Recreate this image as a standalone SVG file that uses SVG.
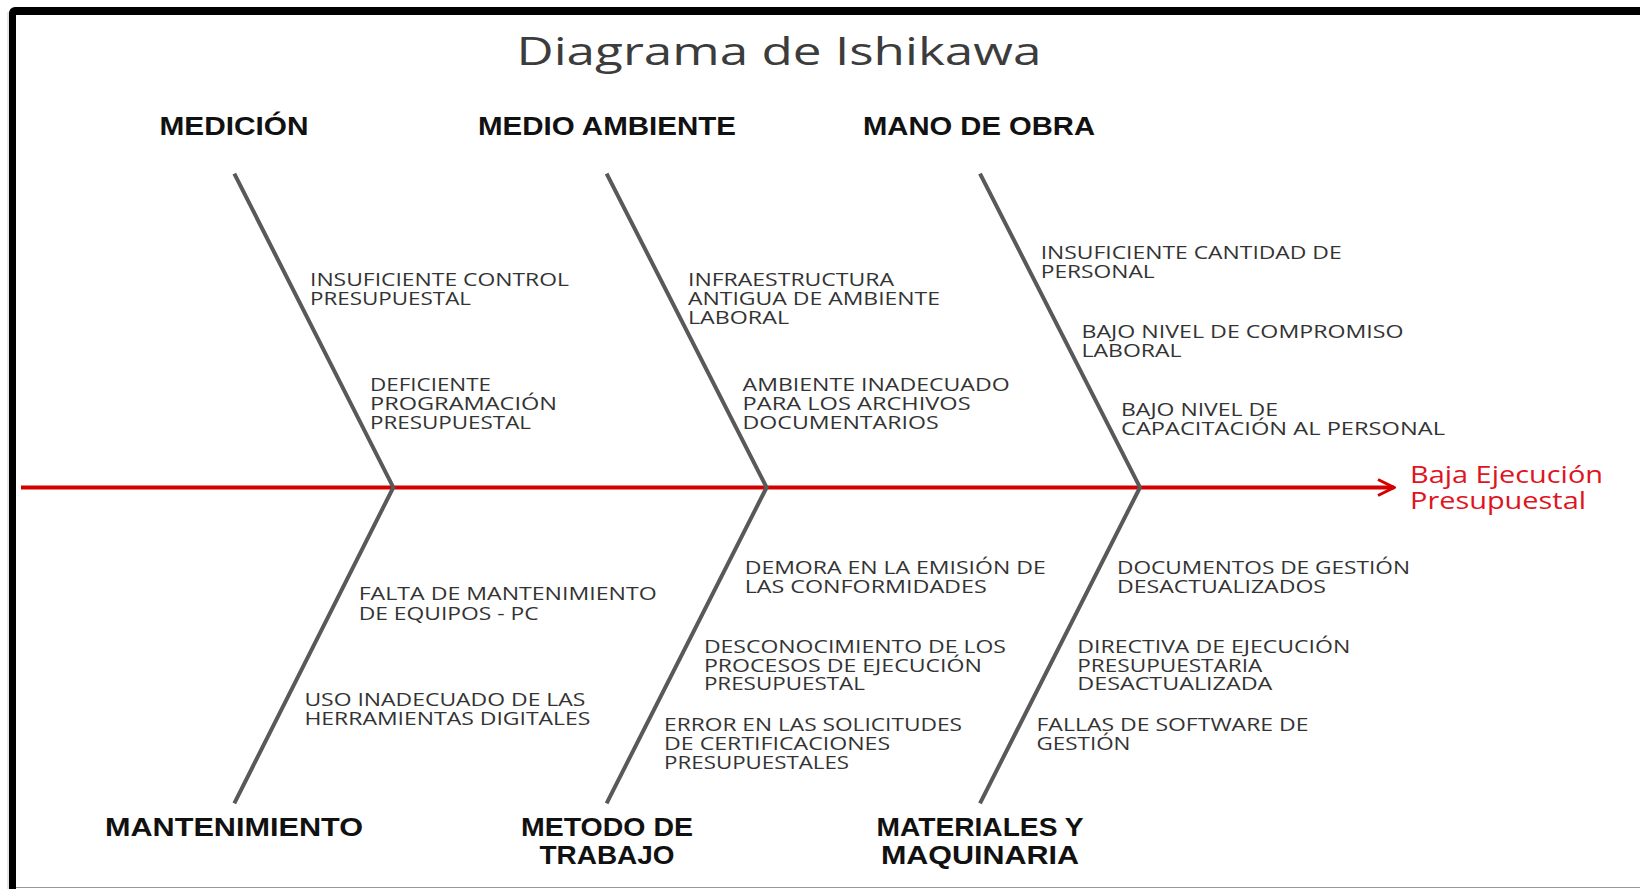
<svg xmlns="http://www.w3.org/2000/svg" width="1640" height="889" viewBox="0 0 1640 889">
<style>
.title{font-family:"Open Sans","Liberation Sans",sans-serif;font-size:38px;fill:#3c3c3c}
.cat{font-family:"Liberation Sans",Arial,sans-serif;font-weight:bold;font-size:26px;fill:#111}
.cause{font-family:"Open Sans","Liberation Sans",sans-serif;font-size:18px;fill:#333}
.effect{font-family:"Open Sans","Liberation Sans",sans-serif;font-size:24px;fill:#e0141e}
.bone{fill:none;stroke:#595959;stroke-width:4;stroke-linejoin:miter}
.spine{stroke:#d40000;stroke-width:4;fill:none}
</style>
<defs>
<marker id="arr" viewBox="0 0 20 20" refX="18" refY="10" markerWidth="20" markerHeight="20" markerUnits="userSpaceOnUse" orient="auto">
<path d="M2,2 L18,10 L2,18" fill="none" stroke="#d40000" stroke-width="3"/>
</marker>
</defs>
<rect width="1640" height="889" fill="#fff"/>
<g id="frame">
<line x1="8" y1="12" x2="8" y2="889" stroke="#ccc" stroke-width="1"/>
<path d="M9,889 V13 A6,6 0 0 1 15,7 H1640 V15 H16 V889 Z" fill="#000"/>
<line x1="16" y1="887.5" x2="1640" y2="887.5" stroke="#999" stroke-width="1.2"/>
</g>
<g id="title">
<text class="title" x="779" y="65" text-anchor="middle" textLength="525" lengthAdjust="spacingAndGlyphs">Diagrama de Ishikawa</text>
</g>
<g id="connectors">
<line class="spine" x1="21" y1="487.5" x2="1394" y2="487.5" marker-end="url(#arr)"/>
<polyline class="bone" points="234.3,173.6 393.3,487.4 234.3,803.3"/>
<polyline class="bone" points="606.6,173.6 766.6,487.4 606.6,803.3"/>
<polyline class="bone" points="980,173.6 1140,487.4 980,803.3"/>
</g>
<g id="effect">
<text class="effect" x="1410" y="483" textLength="193" lengthAdjust="spacingAndGlyphs">Baja Ejecución</text>
<text class="effect" x="1410" y="509.4" textLength="176" lengthAdjust="spacingAndGlyphs">Presupuestal</text>
</g>
<g id="cat-medicion">
<text class="cat" x="234" y="135" text-anchor="middle" textLength="149" lengthAdjust="spacingAndGlyphs">MEDICIÓN</text>
</g>
<g id="cat-medio-ambiente">
<text class="cat" x="607" y="135" text-anchor="middle" textLength="258" lengthAdjust="spacingAndGlyphs">MEDIO AMBIENTE</text>
</g>
<g id="cat-mano-de-obra">
<text class="cat" x="979" y="135" text-anchor="middle" textLength="232" lengthAdjust="spacingAndGlyphs">MANO DE OBRA</text>
</g>
<g id="cat-mantenimiento">
<text class="cat" x="234" y="835.7" text-anchor="middle" textLength="258" lengthAdjust="spacingAndGlyphs">MANTENIMIENTO</text>
</g>
<g id="cat-metodo">
<text class="cat" x="607" y="835.7" text-anchor="middle" textLength="172" lengthAdjust="spacingAndGlyphs">METODO DE</text>
<text class="cat" x="607" y="864" text-anchor="middle" textLength="135" lengthAdjust="spacingAndGlyphs">TRABAJO</text>
</g>
<g id="cat-materiales">
<text class="cat" x="980" y="835.7" text-anchor="middle" textLength="207" lengthAdjust="spacingAndGlyphs">MATERIALES Y</text>
<text class="cat" x="980" y="864" text-anchor="middle" textLength="198" lengthAdjust="spacingAndGlyphs">MAQUINARIA</text>
</g>
<g id="cause-1">
<text class="cause" x="310" y="285.5" textLength="259" lengthAdjust="spacingAndGlyphs">INSUFICIENTE CONTROL</text>
<text class="cause" x="310" y="305" textLength="161" lengthAdjust="spacingAndGlyphs">PRESUPUESTAL</text>
</g>
<g id="cause-2">
<text class="cause" x="370" y="391" textLength="121" lengthAdjust="spacingAndGlyphs">DEFICIENTE</text>
<text class="cause" x="370" y="410" textLength="187" lengthAdjust="spacingAndGlyphs">PROGRAMACIÓN</text>
<text class="cause" x="370" y="429" textLength="161" lengthAdjust="spacingAndGlyphs">PRESUPUESTAL</text>
</g>
<g id="cause-3">
<text class="cause" x="688" y="285.5" textLength="206" lengthAdjust="spacingAndGlyphs">INFRAESTRUCTURA</text>
<text class="cause" x="688" y="305" textLength="252" lengthAdjust="spacingAndGlyphs">ANTIGUA DE AMBIENTE</text>
<text class="cause" x="688" y="324" textLength="101" lengthAdjust="spacingAndGlyphs">LABORAL</text>
</g>
<g id="cause-4">
<text class="cause" x="742.6" y="391" textLength="267" lengthAdjust="spacingAndGlyphs">AMBIENTE INADECUADO</text>
<text class="cause" x="742.6" y="410" textLength="228" lengthAdjust="spacingAndGlyphs">PARA LOS ARCHIVOS</text>
<text class="cause" x="742.6" y="429" textLength="196" lengthAdjust="spacingAndGlyphs">DOCUMENTARIOS</text>
</g>
<g id="cause-5">
<text class="cause" x="1040.7" y="259.4" textLength="301" lengthAdjust="spacingAndGlyphs">INSUFICIENTE CANTIDAD DE</text>
<text class="cause" x="1040.7" y="278.2" textLength="114" lengthAdjust="spacingAndGlyphs">PERSONAL</text>
</g>
<g id="cause-6">
<text class="cause" x="1081.5" y="337.8" textLength="322" lengthAdjust="spacingAndGlyphs">BAJO NIVEL DE COMPROMISO</text>
<text class="cause" x="1081.5" y="356.6" textLength="100" lengthAdjust="spacingAndGlyphs">LABORAL</text>
</g>
<g id="cause-7">
<text class="cause" x="1121" y="416.3" textLength="157" lengthAdjust="spacingAndGlyphs">BAJO NIVEL DE</text>
<text class="cause" x="1121" y="435" textLength="324" lengthAdjust="spacingAndGlyphs">CAPACITACIÓN AL PERSONAL</text>
</g>
<g id="cause-8">
<text class="cause" x="358.7" y="600.3" textLength="298" lengthAdjust="spacingAndGlyphs">FALTA DE MANTENIMIENTO</text>
<text class="cause" x="358.7" y="620.2" textLength="180" lengthAdjust="spacingAndGlyphs">DE EQUIPOS - PC</text>
</g>
<g id="cause-9">
<text class="cause" x="304.4" y="706" textLength="281" lengthAdjust="spacingAndGlyphs">USO INADECUADO DE LAS</text>
<text class="cause" x="304.4" y="724.8" textLength="286" lengthAdjust="spacingAndGlyphs">HERRAMIENTAS DIGITALES</text>
</g>
<g id="cause-10">
<text class="cause" x="744.7" y="574.2" textLength="301" lengthAdjust="spacingAndGlyphs">DEMORA EN LA EMISIÓN DE</text>
<text class="cause" x="744.7" y="593" textLength="242" lengthAdjust="spacingAndGlyphs">LAS CONFORMIDADES</text>
</g>
<g id="cause-11">
<text class="cause" x="703.9" y="652.6" textLength="302" lengthAdjust="spacingAndGlyphs">DESCONOCIMIENTO DE LOS</text>
<text class="cause" x="703.9" y="671.5" textLength="278" lengthAdjust="spacingAndGlyphs">PROCESOS DE EJECUCIÓN</text>
<text class="cause" x="703.9" y="690.3" textLength="161" lengthAdjust="spacingAndGlyphs">PRESUPUESTAL</text>
</g>
<g id="cause-12">
<text class="cause" x="664.1" y="731" textLength="298" lengthAdjust="spacingAndGlyphs">ERROR EN LAS SOLICITUDES</text>
<text class="cause" x="664.1" y="749.9" textLength="226" lengthAdjust="spacingAndGlyphs">DE CERTIFICACIONES</text>
<text class="cause" x="664.1" y="768.7" textLength="185" lengthAdjust="spacingAndGlyphs">PRESUPUESTALES</text>
</g>
<g id="cause-13">
<text class="cause" x="1117" y="574.2" textLength="293" lengthAdjust="spacingAndGlyphs">DOCUMENTOS DE GESTIÓN</text>
<text class="cause" x="1117" y="593" textLength="209" lengthAdjust="spacingAndGlyphs">DESACTUALIZADOS</text>
</g>
<g id="cause-14">
<text class="cause" x="1077.3" y="652.6" textLength="273" lengthAdjust="spacingAndGlyphs">DIRECTIVA DE EJECUCIÓN</text>
<text class="cause" x="1077.3" y="671.5" textLength="185" lengthAdjust="spacingAndGlyphs">PRESUPUESTARIA</text>
<text class="cause" x="1077.3" y="690.3" textLength="195" lengthAdjust="spacingAndGlyphs">DESACTUALIZADA</text>
</g>
<g id="cause-15">
<text class="cause" x="1036.5" y="731" textLength="272" lengthAdjust="spacingAndGlyphs">FALLAS DE SOFTWARE DE</text>
<text class="cause" x="1036.5" y="749.9" textLength="94" lengthAdjust="spacingAndGlyphs">GESTIÓN</text>
</g>
</svg>
